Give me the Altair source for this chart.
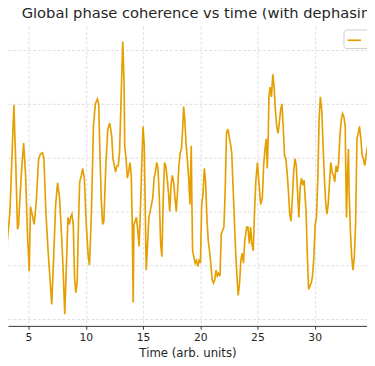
import altair as alt
import pandas as pd

time = [3.06, 3.145, 3.376, 3.547, 3.718, 3.889, 4.034, 4.12, 4.231, 4.402, 4.573, 4.744, 4.915, 5.06,
        5.171, 5.316, 5.487, 5.658, 5.88, 6.051, 6.222, 6.342, 6.513, 6.684, 6.855, 7.026, 7.197, 7.368,
        7.538, 7.709, 7.88, 8.034, 8.162, 8.333, 8.444, 8.564, 8.675, 8.786, 8.906, 9.017, 9.128, 9.248,
        9.359, 9.47, 9.615, 9.726, 9.872, 10.043, 10.214, 10.325, 10.496, 10.667, 10.838, 11.009, 11.128,
        11.239, 11.35, 11.47, 11.581, 11.752, 11.923, 12.094, 12.265, 12.376, 12.496, 12.607, 12.718,
        12.838, 12.949, 13.06, 13.179, 13.231, 13.291, 13.35, 13.402, 13.521, 13.632, 13.744, 13.863,
        13.974, 14.06, 14.145, 14.205, 14.316, 14.427, 14.547, 14.658, 14.769, 14.889, 15.0, 15.111,
        15.171, 15.282, 15.402, 15.513, 15.624, 15.744, 15.855, 15.966, 16.085, 16.197, 16.308, 16.427,
        16.538, 16.65, 16.769, 16.88, 16.991, 17.111, 17.222, 17.333, 17.453, 17.564, 17.675, 17.795,
        17.906, 18.017, 18.137, 18.248, 18.359, 18.479, 18.547, 18.65, 18.761, 18.872, 18.991, 19.103,
        19.214, 19.274, 19.333, 19.444, 19.556, 19.675, 19.786, 19.897, 20.017, 20.128, 20.239, 20.359,
        20.47, 20.581, 20.701, 20.812, 20.923, 21.043, 21.154, 21.265, 21.385, 21.496, 21.607, 21.726,
        21.838, 21.949, 22.068, 22.179, 22.291, 22.41, 22.521, 22.632, 22.752, 22.863, 22.974, 23.094,
        23.205, 23.316, 23.436, 23.547, 23.658, 23.778, 23.889, 24.06, 24.171, 24.291, 24.402, 24.513,
        24.632, 24.744, 24.855, 25.0, 25.145, 25.282, 25.427, 25.538, 25.658, 25.769, 25.855, 25.94,
        26.0, 26.111, 26.222, 26.342, 26.453, 26.564, 26.684, 26.795, 26.906, 27.026, 27.137, 27.248,
        27.368, 27.479, 27.59, 27.709, 27.821, 27.932, 28.051, 28.162, 28.274, 28.393, 28.504, 28.615,
        28.735, 28.846, 28.957, 29.077, 29.188, 29.248, 29.359, 29.47, 29.59, 29.701, 29.812, 29.932,
        30.043, 30.154, 30.274, 30.385, 30.496, 30.615, 30.726, 30.838, 30.957, 31.068, 31.179, 31.299,
        31.41, 31.521, 31.641, 31.752, 31.863, 31.983, 32.094, 32.205, 32.325, 32.436, 32.547, 32.667,
        32.718, 32.778, 32.863, 32.949, 33.009, 33.12, 33.231, 33.35, 33.462, 33.573, 33.692, 33.803,
        33.915, 34.034, 34.145, 34.256, 34.376, 34.487, 34.658]

coherence = [0.016, 0.145, 0.2, 0.298, 0.398, 0.285, 0.167, 0.173, 0.218, 0.28, 0.327, 0.267, 0.153, 0.089,
             0.209, 0.195, 0.176, 0.213, 0.298, 0.307, 0.309, 0.298, 0.2, 0.135, 0.08, 0.027, 0.116, 0.213,
             0.253, 0.225, 0.158, 0.085, 0.009, 0.116, 0.189, 0.176, 0.189, 0.195, 0.176, 0.08, 0.049, 0.067,
             0.176, 0.255, 0.267, 0.28, 0.262, 0.176, 0.116, 0.1, 0.2, 0.358, 0.4, 0.409, 0.4,
             0.309, 0.225, 0.176, 0.182, 0.285, 0.353, 0.364, 0.34, 0.298, 0.285, 0.273, 0.285,
             0.285, 0.309, 0.389, 0.48, 0.516, 0.48, 0.431, 0.322, 0.298, 0.262, 0.273, 0.291,
             0.267, 0.176, 0.031, 0.176, 0.182, 0.189, 0.164, 0.135, 0.2, 0.285, 0.358, 0.322,
             0.236, 0.091, 0.14, 0.189, 0.2, 0.213, 0.225, 0.262, 0.273, 0.291, 0.28, 0.225,
             0.14, 0.116, 0.225, 0.291, 0.285, 0.262, 0.236, 0.2, 0.249, 0.267, 0.255, 0.225,
             0.2, 0.236, 0.285, 0.309, 0.316, 0.358, 0.395, 0.371, 0.327, 0.298, 0.262, 0.213,
             0.322, 0.213, 0.127, 0.116, 0.104, 0.109, 0.098, 0.109, 0.104, 0.213, 0.231, 0.28,
             0.255, 0.189, 0.145, 0.127, 0.104, 0.073, 0.067, 0.073, 0.091, 0.08, 0.085, 0.08,
             0.158, 0.164, 0.171, 0.236, 0.345, 0.353, 0.34, 0.327, 0.309, 0.249, 0.189, 0.127,
             0.08, 0.044, 0.067, 0.109, 0.122, 0.104, 0.145, 0.171, 0.171, 0.14, 0.171, 0.14,
             0.127, 0.2, 0.255, 0.291, 0.249, 0.213, 0.225, 0.285, 0.316, 0.335, 0.28, 0.34,
             0.413, 0.431, 0.413, 0.455, 0.431, 0.389, 0.358, 0.345, 0.364, 0.389, 0.4, 0.358,
             0.304, 0.298, 0.273, 0.236, 0.195, 0.182, 0.225, 0.273, 0.298, 0.285, 0.236, 0.189,
             0.244, 0.262, 0.249, 0.258, 0.218, 0.2, 0.116, 0.055, 0.062, 0.067, 0.08, 0.116,
             0.176, 0.189, 0.262, 0.371, 0.413, 0.389, 0.327, 0.267, 0.218, 0.195, 0.213, 0.255,
             0.291, 0.273, 0.267, 0.255, 0.285, 0.273, 0.291, 0.34, 0.371, 0.382, 0.376, 0.358,
             0.273, 0.189, 0.267, 0.316, 0.236, 0.164, 0.116, 0.091, 0.116, 0.176, 0.335, 0.345,
             0.358, 0.335, 0.304, 0.298, 0.285, 0.304, 0.327]

series_name = "R(t)"
x_ticks = [5, 10, 15, 20, 25, 30, 35]
y_grid = [0.0, 0.1, 0.2, 0.3, 0.4, 0.5]

df = pd.DataFrame({"time": time, "coherence": coherence, "series": series_name})

FONT = "DejaVu Sans"
TXT = "#262626"

chart = alt.Chart(df).mark_line(strokeWidth=1.7, clip=True).encode(
    x=alt.X("time:Q",
            scale=alt.Scale(domain=[3.205, 34.57], nice=False, zero=False),
            axis=alt.Axis(values=x_ticks, title="Time (arb. units)", grid=True,
                          gridDash=[3, 2], gridColor="#d6d6d6", gridWidth=0.8,
                          domainColor="#333333", domainWidth=1, tickColor="#333333",
                          tickSize=3.5, labelFont=FONT, labelFontSize=11, labelColor=TXT,
                          labelPadding=2, labelFlush=False, titleFont=FONT, titleFontSize=12,
                          titleFontWeight="normal", titleColor=TXT, titlePadding=6)),
    y=alt.Y("coherence:Q",
            scale=alt.Scale(domain=[-0.0127, 0.5436], nice=False, zero=False),
            axis=alt.Axis(values=y_grid, grid=True, labels=False, ticks=False, domain=False,
                          title="", gridDash=[3, 2], gridColor="#d6d6d6", gridWidth=0.8)),
    color=alt.Color("series:N", scale=alt.Scale(range=["#E69F00"]),
                    legend=alt.Legend(orient="none", legendX=343, legendY=3, title=None,
                                      fillColor="white", strokeColor="#cccccc", cornerRadius=3,
                                      padding=3, symbolType="stroke", symbolSize=190,
                                      symbolStrokeWidth=1.7, labelOffset=12, labelFont=FONT,
                                      labelFontSize=11, labelColor=TXT)),
).properties(
    width=367,
    height=306,
    title=alt.TitleParams("Global phase coherence vs time (with dephasing)", anchor="start",
                          frame="group", dx=14, dy=11, offset=5, baseline="alphabetic",
                          font=FONT, fontSize=15, fontWeight="normal", color=TXT),
    autosize=alt.AutoSizeParams(type="none"),
    padding={"left": 0, "top": 15, "right": 0, "bottom": 36},
).configure_view(strokeWidth=0)

chart.save("out.html", embed_options={"renderer": "svg", "actions": False})
